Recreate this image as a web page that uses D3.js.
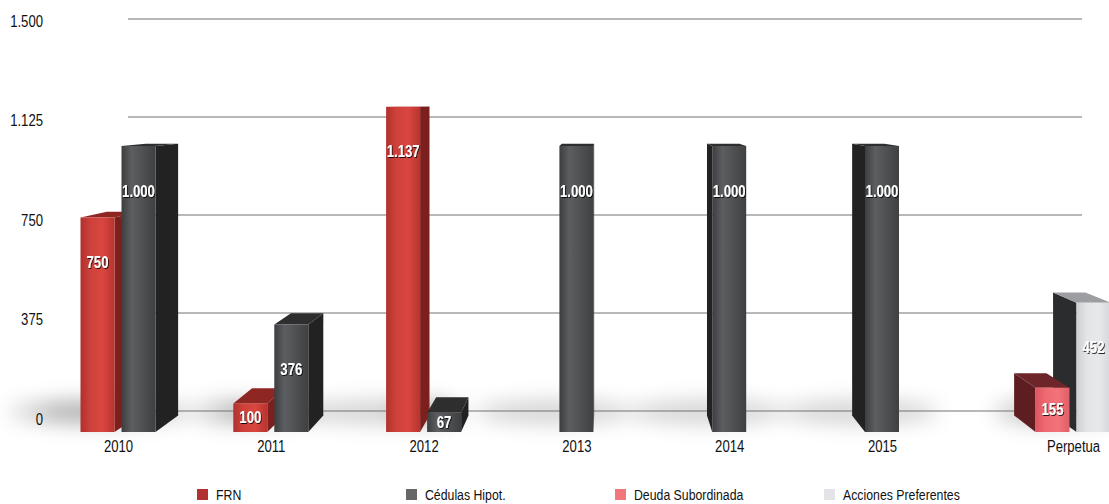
<!DOCTYPE html>
<html>
<head>
<meta charset="utf-8">
<script src="https://cdn.jsdelivr.net/npm/d3@7"></script>
<style>
  html, body { margin: 0; padding: 0; background: #fff; }
  svg { display: block; }
  .lbl { font-family: "Liberation Sans", Arial, sans-serif; }
</style>
</head>
<body>
<svg id="chart" width="1109" height="504"></svg>
<script>
// ---- data ----
const categories = ["2010", "2011", "2012", "2013", "2014", "2015", "Perpetua"];
const frn        = [750, 100, 1137, null, null, null, null];
const cedulas    = [1000, 376, 67, 1000, 1000, 1000, null];
const deudaSub   = [null, null, null, null, null, null, 155];
const acciones   = [null, null, null, null, null, null, 452];
const yTicks     = [0, 375, 750, 1125, 1500];
const seriesNames = ["FRN", "Cédulas Hipot.", "Deuda Subordinada", "Acciones Preferentes"];
const seriesValues = [frn, cedulas, deudaSub, acciones];

// ---- styles ----
const palette = [
  { key: "frn",  legend: "#b2302d", front: ["#b0312d", "#cf413b", "#d9463f", "#b8332f"], side: "#7c1f1d", top: "#8e2724" },
  { key: "ced",  legend: "#676767", front: ["#3d3e40", "#5c5e61", "#4d4f51", "#3f4042"], side: "#222223", top: "#2e2e2f" },
  { key: "deu",  legend: "#f4767d", front: ["#dc5560", "#ee6a72", "#f2737a", "#e05f68"], side: "#5e1d21", top: "#6e2529" },
  { key: "acc",  legend: "#e2e4e7", front: ["#cdd0d3", "#e2e4e6", "#e8e9eb", "#d4d6d9"], side: "#2b2c2d", top: "#9c9ea1" }
];
const NARROW = 0.82; // condensed lettering

const svg = d3.select("#chart");
const defs = svg.append("defs");

const loc = d3.formatLocale({ decimal: ",", thousands: ".", grouping: [3], currency: ["", " €"] });
const fmt = loc.format(",d");

// squeeze text horizontally around its own anchor point
function condense(sel) {
  sel.each(function () {
    const t = d3.select(this);
    const tx = +t.attr("x") || 0, ty = +t.attr("y") || 0;
    t.attr("x", 0).attr("y", 0).attr("transform", `translate(${tx},${ty}) scale(${NARROW},1)`);
  });
}

// ---- scales ----
// back-wall grid, front-plane bar heights, tick label placement
const yGrid = d3.scaleLinear().domain([0, 1500]).range([411, 19]);
const yBar  = d3.scaleLinear().domain([0, 1500]).range([432, 3]);
const yAxis = d3.scaleLinear().domain([0, 1500]).range([419, 21]);
// dated maturities evenly spaced, perpetual bucket set slightly apart
const slot = i => (categories[i] === "Perpetua" ? i + 0.25 : i);
const x = d3.scaleLinear().domain([0, categories.length - 0.75]).range([118, 1073]);

const barW = 34, barGap = 7;
const VP = { x: 608, y: 100 }, depth = 0.05;
const back = p => [p[0] + (VP.x - p[0]) * depth, p[1] + (VP.y - p[1]) * depth];

// ---- gradients & filters ----
palette.forEach(p => {
  const g = defs.append("linearGradient").attr("id", "front-" + p.key)
    .attr("x1", 0).attr("x2", 1).attr("y1", 0).attr("y2", 0);
  [0, 0.3, 0.65, 1].forEach((o, i) => g.append("stop").attr("offset", o).attr("stop-color", p.front[i]));
});
const blur = defs.append("filter").attr("id", "soft").attr("x", "-50%").attr("y", "-150%").attr("width", "200%").attr("height", "400%");
blur.append("feGaussianBlur").attr("stdDeviation", 10);
const ds = defs.append("filter").attr("id", "txtshadow").attr("x", "-20%").attr("y", "-30%").attr("width", "150%").attr("height", "170%");
ds.append("feDropShadow").attr("dx", 1).attr("dy", 1).attr("stdDeviation", 0.7).attr("flood-color", "#000").attr("flood-opacity", 0.85);

// ---- bar geometry ----
const bars = [];
categories.forEach((cat, ci) => {
  const present = seriesValues.map((arr, si) => ({ si, v: arr[ci] })).filter(d => d.v != null);
  const total = present.length * barW + (present.length - 1) * barGap;
  const cx = x(slot(ci));
  present.forEach((d, k) => {
    const x0 = cx - total / 2 + k * (barW + barGap);
    bars.push({ cat, si: d.si, v: d.v, x0, x1: x0 + barW, yt: yBar(d.v), yb: yBar(0) });
  });
});

// ---- floor shadows ----
svg.append("g").attr("filter", "url(#soft)")
  .selectAll("ellipse").data(bars).join("ellipse")
  .attr("cx", d => (d.x0 + d.x1) / 2 - 22)
  .attr("cy", d => d.yb - 20)
  .attr("rx", d => 30 + 0.17 * (d.yb - d.yt))
  .attr("ry", 12)
  .attr("fill", "#000")
  .attr("opacity", 0.17);

// ---- gridlines ----
svg.append("g").selectAll("line").data(yTicks).join("line")
  .attr("x1", 128).attr("x2", 1082)
  .attr("y1", d => yGrid(d)).attr("y2", d => yGrid(d))
  .attr("stroke", "#737373").attr("stroke-width", 1);

// ---- y axis labels ----
const yAx = svg.append("g").attr("class", "lbl").attr("transform", "translate(43,0)")
  .call(d3.axisLeft(yAxis).tickValues(yTicks).tickFormat(fmt).tickSize(0).tickPadding(0));
yAx.select(".domain").remove();
yAx.selectAll("text").attr("font-size", 16).attr("fill", "#111").call(condense);

// ---- x axis labels ----
const xAx = svg.append("g").attr("class", "lbl").attr("transform", "translate(0,441)")
  .call(d3.axisBottom(x).tickValues(categories.map((c, i) => slot(i))).tickFormat((d, i) => categories[i]).tickSize(0).tickPadding(0));
xAx.select(".domain").remove();
xAx.selectAll("text").attr("font-size", 16).attr("fill", "#111").call(condense);

// ---- bars (farthest from the eye line first) ----
const order = bars.slice().sort((a, b) =>
  Math.abs((b.x0 + b.x1) / 2 - VP.x) - Math.abs((a.x0 + a.x1) / 2 - VP.x));
const poly = pts => pts.map(p => p.join(",")).join(" ");
const gBars = svg.append("g");
order.forEach(b => {
  const p = palette[b.si];
  const g = gBars.append("g");
  const tl = [b.x0, b.yt], tr = [b.x1, b.yt], bl = [b.x0, b.yb], br = [b.x1, b.yb];
  if (b.x1 < VP.x) {
    g.append("polygon").attr("points", poly([tr, back(tr), back(br), br])).attr("fill", p.side);
  }
  if (b.x0 > VP.x) {
    g.append("polygon").attr("points", poly([tl, back(tl), back(bl), bl])).attr("fill", p.side);
  }
  g.append("polygon").attr("points", poly([tl, tr, back(tr), back(tl)])).attr("fill", p.top);
  g.append("rect").attr("x", b.x0).attr("y", b.yt).attr("width", barW).attr("height", b.yb - b.yt)
    .attr("fill", `url(#front-${p.key})`);
  // value label
  const h = b.yb - b.yt;
  g.append("text").attr("class", "lbl")
    .attr("x", (b.x0 + b.x1) / 2)
    .attr("y", b.yt + Math.min(45, h / 2))
    .attr("dy", "0.35em")
    .attr("text-anchor", "middle")
    .attr("font-size", 16).attr("font-weight", "bold")
    .attr("fill", "#fff")
    .attr("filter", "url(#txtshadow)")
    .text(fmt(b.v))
    .call(condense);
});

// ---- legend ----
const lx = d3.scalePoint().domain(seriesNames).range([197, 824]);
const leg = svg.append("g").attr("class", "lbl");
const items = leg.selectAll("g").data(seriesNames).join("g")
  .attr("transform", d => `translate(${lx(d)},489)`);
items.append("rect").attr("width", 11).attr("height", 11)
  .attr("fill", (d, i) => palette[i].legend);
items.append("text").attr("x", 19).attr("y", 11)
  .attr("font-size", 15).attr("fill", "#111").text(d => d)
  .call(condense);
</script>
</body>
</html>
